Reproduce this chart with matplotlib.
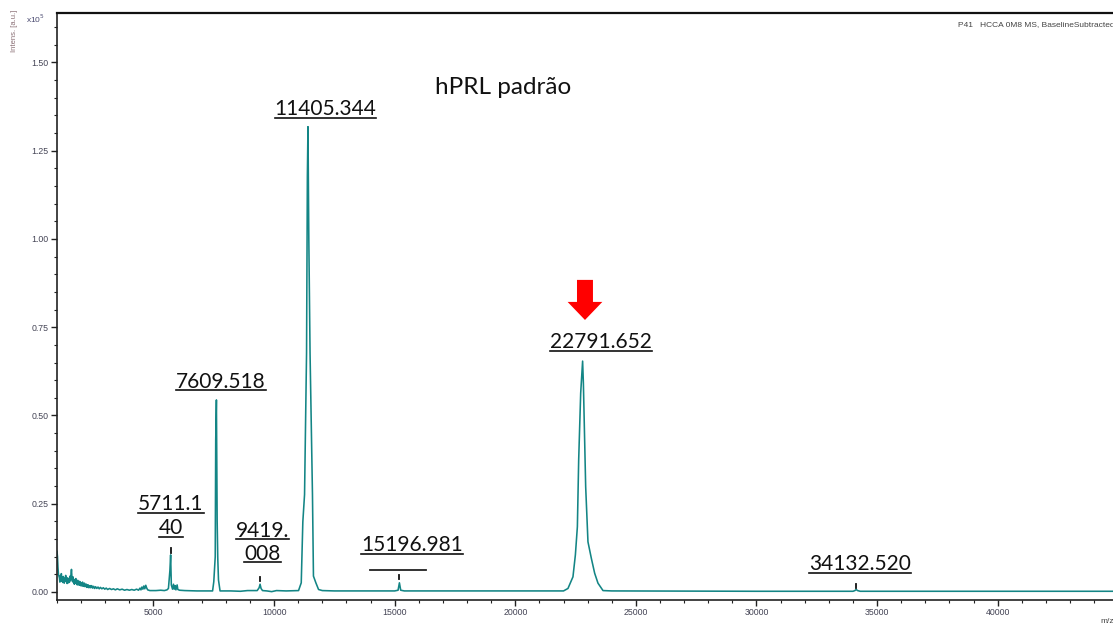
import matplotlib
matplotlib.use("Agg")
import matplotlib.pyplot as plt
from matplotlib.lines import Line2D
from matplotlib.ticker import MultipleLocator, FixedLocator

# low-mass region of the spectrum: (m/z, intensity x10^5 a.u.)
low_mass = [
    (1000, 0.115), (1020, 0.100), (1040, 0.070), (1060, 0.050), (1080, 0.045),
    (1100, 0.040), (1120, 0.028), (1140, 0.046), (1160, 0.033), (1180, 0.052),
    (1200, 0.030), (1220, 0.041), (1240, 0.027), (1260, 0.044), (1280, 0.035),
    (1300, 0.025), (1320, 0.039), (1340, 0.031), (1360, 0.047), (1380, 0.029),
    (1400, 0.036), (1420, 0.024), (1440, 0.040), (1460, 0.033), (1480, 0.026),
    (1500, 0.038), (1520, 0.028), (1540, 0.045), (1560, 0.034), (1580, 0.050),
    (1600, 0.064), (1620, 0.041), (1640, 0.030), (1660, 0.043), (1680, 0.027),
    (1700, 0.036), (1720, 0.022), (1740, 0.034), (1760, 0.026), (1780, 0.038),
    (1800, 0.024), (1820, 0.031), (1840, 0.020), (1860, 0.033), (1880, 0.025),
    (1900, 0.029), (1920, 0.019), (1940, 0.030), (1960, 0.022), (1980, 0.027),
    (2000, 0.017), (2020, 0.026), (2040, 0.020), (2060, 0.028), (2080, 0.016),
    (2100, 0.023), (2120, 0.018), (2140, 0.025), (2160, 0.015), (2180, 0.021),
    (2200, 0.016), (2220, 0.022), (2240, 0.013), (2260, 0.019), (2280, 0.014),
    (2300, 0.020), (2320, 0.012), (2340, 0.017), (2360, 0.013), (2380, 0.018),
    (2400, 0.012), (2440, 0.018), (2480, 0.011), (2520, 0.016), (2560, 0.010),
    (2600, 0.015), (2650, 0.010), (2700, 0.014), (2750, 0.009), (2800, 0.013),
    (2860, 0.009), (2920, 0.012), (2980, 0.008), (3040, 0.011), (3100, 0.007),
    (3180, 0.010), (3260, 0.007), (3340, 0.009), (3420, 0.006), (3500, 0.009),
    (3600, 0.006), (3700, 0.008), (3800, 0.005), (3900, 0.007), (4000, 0.005),
    (4100, 0.007), (4200, 0.005), (4300, 0.008), (4380, 0.005), (4440, 0.011),
    (4480, 0.006), (4520, 0.014), (4560, 0.008), (4600, 0.017), (4640, 0.009),
    (4680, 0.019), (4720, 0.011), (4760, 0.006), (4850, 0.004), (5000, 0.004),
]

# rest of the spectrum
high_mass = [
    (5100, 0.004), (5300, 0.005), (5450, 0.004), (5560, 0.006), (5620, 0.010),
    (5680, 0.060), (5711, 0.105), (5740, 0.020), (5790, 0.008), (5830, 0.022),
    (5860, 0.008), (5900, 0.018), (5930, 0.006), (5980, 0.020), (6010, 0.007),
    (6080, 0.005), (6300, 0.004), (6800, 0.003), (7200, 0.003), (7450, 0.003),
    (7500, 0.029), (7560, 0.100), (7580, 0.430), (7609, 0.544), (7640, 0.200),
    (7665, 0.096), (7695, 0.034), (7760, 0.003), (8200, 0.003), (8600, 0.002),
    (8900, 0.004), (9300, 0.004), (9380, 0.012), (9419, 0.022), (9460, 0.010),
    (9520, 0.004), (9700, 0.003), (9900, 0.001), (10100, 0.004), (10500, 0.003),
    (10900, 0.004), (11014, 0.004), (11126, 0.026), (11192, 0.199), (11263, 0.276),
    (11346, 0.677), (11380, 1.178), (11405, 1.318), (11440, 1.000), (11491, 0.677),
    (11562, 0.402), (11591, 0.277), (11632, 0.045), (11732, 0.026), (11844, 0.007),
    (12000, 0.004), (12500, 0.003), (13500, 0.003), (15000, 0.003), (15140, 0.005),
    (15196, 0.026), (15250, 0.005), (15400, 0.003), (17000, 0.003), (20000, 0.003),
    (22000, 0.003), (22184, 0.010), (22391, 0.043), (22491, 0.105), (22574, 0.185),
    (22628, 0.374), (22711, 0.563), (22791, 0.654), (22823, 0.591), (22918, 0.298),
    (23013, 0.142), (23154, 0.095), (23291, 0.053), (23428, 0.025), (23636, 0.004),
    (24000, 0.003), (30000, 0.002), (34000, 0.002), (34080, 0.004), (34132, 0.007),
    (34190, 0.004), (34300, 0.002), (44780, 0.002),
]

# annotated peaks
peak_labels = ["11405.344", "7609.518", "22791.652", "15196.981", "34132.520"]
peak_label_pos = [(12134, 1.351), (7800, 0.578), (23540, 0.691), (15722, 0.116), (34283, 0.062)]
split_labels = [["5711.1", "40"], ["9419.", "008"]]
split_label_pos = [(5726, 0.232, 0.164), (9521, 0.156, 0.091)]
# small picks above minor peaks (m/z, y bottom, y top)
pick_marks = [(5711, 0.110, 0.125), (9419, 0.031, 0.042), (15196, 0.037, 0.048), (34132, 0.011, 0.023)]

mz = [p[0] for p in low_mass + high_mass]
intensity = [p[1] for p in low_mass + high_mass]

fig = plt.figure(figsize=(11.13, 6.27), dpi=100)
ax = fig.add_axes([57 / 1113, 27 / 627, 1 - 57 / 1113, 587 / 627])

ax.plot(mz, intensity, color="#138585", lw=1.15)

ax.set_xlim(1000, 44780)
ax.set_ylim(-0.0227, 1.640)

tick_font = dict(family="Liberation Sans", size=6.3, color="#444455")
ax.yaxis.set_major_locator(FixedLocator([0, 0.25, 0.5, 0.75, 1.0, 1.25, 1.5]))
ax.yaxis.set_minor_locator(MultipleLocator(0.05))
ax.set_yticklabels(["0.00", "0.25", "0.50", "0.75", "1.00", "1.25", "1.50"], **tick_font)
ax.xaxis.set_major_locator(FixedLocator(range(5000, 45000, 5000)))
ax.xaxis.set_minor_locator(MultipleLocator(1000))
ax.set_xticklabels([str(v) for v in range(5000, 45000, 5000)], **tick_font)
ax.tick_params(which="major", length=4, width=1.0, color="#222222", pad=2)
ax.tick_params(which="minor", length=2.5, width=0.8, color="#222222")

for side in ["left", "bottom"]:
    ax.spines[side].set_color("#222222")
    ax.spines[side].set_linewidth(1.2)
ax.spines["top"].set_color("#111111")
ax.spines["top"].set_linewidth(1.6)
ax.spines["right"].set_visible(False)

fig.text(15 / 1113, 1 - 10 / 627, "Intens. [a.u.]", rotation=90, ha="center", va="top",
         family="Liberation Sans", size=5.5, color="#8a6f75")
fig.text(26 / 1113, 1 - 23 / 627, r"x10$^5$", ha="left", va="baseline",
         family="Liberation Sans", size=6, color="#4a4a70")
fig.text(1 + 2 / 1113, 1 - 26 / 627, "P41   HCCA 0M8 MS, BaselineSubtracted", ha="right",
         va="baseline", family="Liberation Sans", size=6, color="#444444")
fig.text(1100 / 1113, 1 - 623 / 627, "m/z", ha="left", va="baseline",
         family="Liberation Sans", size=6, color="#444444")

ax.text(19475, 1.411, "hPRL padrão", ha="center", va="baseline", family="Lato",
        size=17.5, color="#111111")

label_font = dict(family="Lato", size=15, color="#111111", ha="center", va="baseline")
under_texts = []
for text, (x, y) in zip(peak_labels, peak_label_pos):
    under_texts.append(ax.text(x, y, text, **label_font))
for (top, bottom), (x, y1, y2) in zip(split_labels, split_label_pos):
    under_texts.append(ax.text(x, y1, top, **label_font))
    under_texts.append(ax.text(x, y2, bottom, **label_font))

for x, y0, y1 in pick_marks:
    ax.plot([x, x], [y0, y1], color="#111111", lw=1.3)
ax.plot([13988, 16282], [0.061, 0.061], color="#222222", lw=1.3)

# arrow pointing at the 22791 peak
ax.annotate("", xy=(22889, 0.7705), xytext=(22889, 0.884),
            arrowprops=dict(arrowstyle="simple,head_length=1.3,head_width=2.5,tail_width=1.15",
                            mutation_scale=10, color="#ff0000", shrinkA=0, shrinkB=0, lw=0))

# underline the peak labels
fig.canvas.draw()
renderer = fig.canvas.get_renderer()
inv = fig.transFigure.inverted()
for t in under_texts:
    bb = t.get_window_extent(renderer)
    _, base = ax.transData.transform((0, t.get_position()[1]))
    (x0, yb), (x1, _) = inv.transform([(bb.x0, base - 2.5), (bb.x1, base)])
    fig.add_artist(Line2D([x0, x1], [yb, yb], transform=fig.transFigure,
                          color="#111111", lw=1.2))

fig.savefig("out.png", dpi=100)
